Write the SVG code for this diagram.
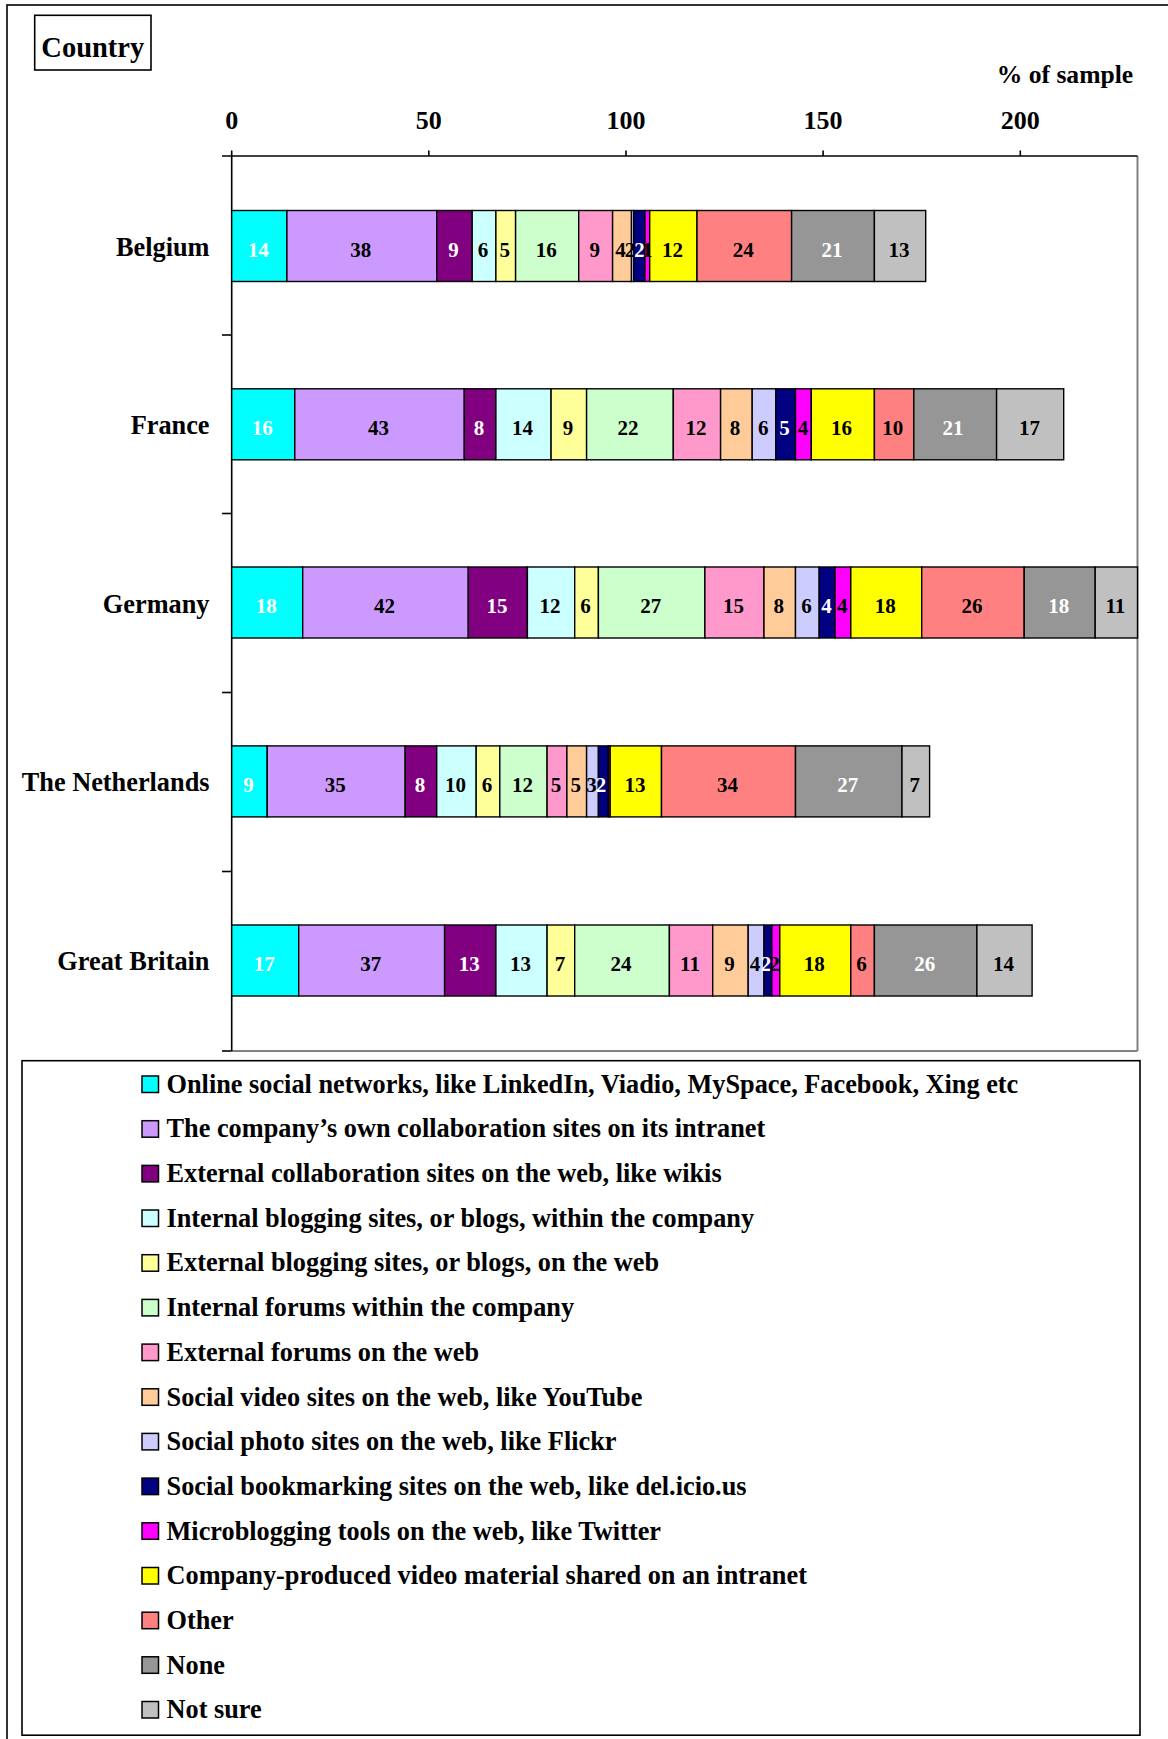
<svg xmlns="http://www.w3.org/2000/svg" width="1168" height="1739" viewBox="0 0 1168 1739">
<style>
text{font-family:"Liberation Serif","Times New Roman",serif;font-weight:bold;fill:#000}
.bl{font-size:21px;text-anchor:middle}
.w{fill:#fff}
.cty{font-size:26.3px;text-anchor:end}
.tick{font-size:26px;text-anchor:middle}
.leg{font-size:26.3px}
.seg{stroke:#000;stroke-width:1.4}
.sw{stroke:#000;stroke-width:1.5}
.c1{fill:#00FFFF}.c2{fill:#CC99FF}.c3{fill:#800080}.c4{fill:#CCFFFF}.c5{fill:#FFFF99}
.c6{fill:#CCFFCC}.c7{fill:#FF99CC}.c8{fill:#FFCC99}.c9{fill:#CCCCFF}.c10{fill:#000080}
.c11{fill:#FF00FF}.c12{fill:#FFFF00}.c13{fill:#FF8080}.c14{fill:#969696}.c15{fill:#C0C0C0}
</style>
<rect x="0" y="0" width="1168" height="1739" fill="#fff"/>
<rect x="7" y="5" width="1180" height="1760" fill="none" stroke="#000" stroke-width="1.6"/>

<g id="title">
<rect x="34.7" y="15.3" width="116.3" height="54.7" fill="#fff" stroke="#000" stroke-width="1.6"/>
<text x="92.8" y="56.7" font-size="28.5" text-anchor="middle">Country</text>
<text x="996.7" y="83" font-size="25.6">% of sample</text>
</g>

<g id="axes">
<line x1="231.7" y1="1051" x2="1137.5" y2="1051" stroke="#808080" stroke-width="2"/>
<line x1="1137.5" y1="156" x2="1137.5" y2="1051" stroke="#808080" stroke-width="2"/>
<line x1="222" y1="156" x2="1137.5" y2="156" stroke="#000" stroke-width="1.6"/>
<line x1="231.7" y1="150.5" x2="231.7" y2="1051" stroke="#000" stroke-width="1.6"/>
<g stroke="#000" stroke-width="1.6">
<line x1="428.8" y1="150.5" x2="428.8" y2="156"/>
<line x1="626" y1="150.5" x2="626" y2="156"/>
<line x1="823.1" y1="150.5" x2="823.1" y2="156"/>
<line x1="1020.3" y1="150.5" x2="1020.3" y2="156"/>
<line x1="222" y1="335" x2="231.7" y2="335"/>
<line x1="222" y1="513.5" x2="231.7" y2="513.5"/>
<line x1="222" y1="692.5" x2="231.7" y2="692.5"/>
<line x1="222" y1="871.5" x2="231.7" y2="871.5"/>
<line x1="222" y1="1051" x2="231.7" y2="1051"/>
</g>
<text class="tick" x="231.7" y="129.3">0</text>
<text class="tick" x="428.8" y="129.3">50</text>
<text class="tick" x="626" y="129.3">100</text>
<text class="tick" x="823.1" y="129.3">150</text>
<text class="tick" x="1020.3" y="129.3">200</text>
<text class="cty" x="209.5" y="255.5">Belgium</text>
<text class="cty" x="209.5" y="434">France</text>
<text class="cty" x="209.5" y="612.5">Germany</text>
<text class="cty" x="209.5" y="791">The Netherlands</text>
<text class="cty" x="209.5" y="970">Great Britain</text>
</g>

<g id="row-belgium">
<rect class="seg c1" x="231.7" y="210.5" width="55.2" height="71"/>
<rect class="seg c2" x="286.9" y="210.5" width="149.8" height="71"/>
<rect class="seg c3" x="436.7" y="210.5" width="35.5" height="71"/>
<rect class="seg c4" x="472.2" y="210.5" width="23.7" height="71"/>
<rect class="seg c5" x="495.9" y="210.5" width="19.7" height="71"/>
<rect class="seg c6" x="515.6" y="210.5" width="63.1" height="71"/>
<rect class="seg c7" x="578.7" y="210.5" width="33.9" height="71"/>
<rect class="seg c8" x="612.6" y="210.5" width="18.9" height="71"/>
<rect class="seg c9" x="631.5" y="210.5" width="2.4" height="71"/>
<rect class="seg c10" x="633.9" y="210.5" width="11" height="71"/>
<rect class="seg c11" x="644.9" y="210.5" width="4.8" height="71"/>
<rect class="seg c12" x="649.7" y="210.5" width="47.3" height="71"/>
<rect class="seg c13" x="697" y="210.5" width="94.6" height="71"/>
<rect class="seg c14" x="791.6" y="210.5" width="82.8" height="71"/>
<rect class="seg c15" x="874.4" y="210.5" width="51.3" height="71"/>
<text class="bl w" x="258.3" y="256.7">14</text>
<text class="bl" x="360.8" y="256.7">38</text>
<text class="bl w" x="453.5" y="256.7">9</text>
<text class="bl" x="483" y="256.7">6</text>
<text class="bl" x="504.8" y="256.7">5</text>
<text class="bl" x="546.2" y="256.7">16</text>
<text class="bl" x="594.7" y="256.7">9</text>
<text class="bl" x="620.5" y="256.7">4</text>
<text class="bl" x="630" y="256.7">2</text>
<text class="bl w" x="639.4" y="256.7">2</text>
<text class="bl" x="647.3" y="256.7">1</text>
<text class="bl" x="672.4" y="256.7">12</text>
<text class="bl" x="743.3" y="256.7">24</text>
<text class="bl w" x="832" y="256.7">21</text>
<text class="bl" x="899" y="256.7">13</text>
</g>

<g id="row-france">
<rect class="seg c1" x="231.7" y="388.8" width="63.1" height="71"/>
<rect class="seg c2" x="294.8" y="388.8" width="169.5" height="71"/>
<rect class="seg c3" x="464.3" y="388.8" width="31.6" height="71"/>
<rect class="seg c4" x="495.9" y="388.8" width="55.2" height="71"/>
<rect class="seg c5" x="551.1" y="388.8" width="35.5" height="71"/>
<rect class="seg c6" x="586.6" y="388.8" width="86.7" height="71"/>
<rect class="seg c7" x="673.3" y="388.8" width="47.3" height="71"/>
<rect class="seg c8" x="720.6" y="388.8" width="31.6" height="71"/>
<rect class="seg c9" x="752.2" y="388.8" width="23.6" height="71"/>
<rect class="seg c10" x="775.8" y="388.8" width="19.7" height="71"/>
<rect class="seg c11" x="795.5" y="388.8" width="15.8" height="71"/>
<rect class="seg c12" x="811.3" y="388.8" width="63.1" height="71"/>
<rect class="seg c13" x="874.4" y="388.8" width="39.4" height="71"/>
<rect class="seg c14" x="913.8" y="388.8" width="82.8" height="71"/>
<rect class="seg c15" x="996.6" y="388.8" width="67.1" height="71"/>
<text class="bl w" x="262.3" y="435">16</text>
<text class="bl" x="378.5" y="435">43</text>
<text class="bl w" x="479.1" y="435">8</text>
<text class="bl" x="522.5" y="435">14</text>
<text class="bl" x="567.9" y="435">9</text>
<text class="bl" x="628" y="435">22</text>
<text class="bl" x="696" y="435">12</text>
<text class="bl" x="735" y="435">8</text>
<text class="bl" x="763.3" y="435">6</text>
<text class="bl w" x="784.5" y="435">5</text>
<text class="bl" x="803" y="435">4</text>
<text class="bl" x="841.5" y="435">16</text>
<text class="bl" x="892.8" y="435">10</text>
<text class="bl w" x="953" y="435">21</text>
<text class="bl" x="1029.5" y="435">17</text>
</g>

<g id="row-germany">
<rect class="seg c1" x="231.7" y="567" width="71" height="71"/>
<rect class="seg c2" x="302.7" y="567" width="165.6" height="71"/>
<rect class="seg c3" x="468.3" y="567" width="59.1" height="71"/>
<rect class="seg c4" x="527.4" y="567" width="47.3" height="71"/>
<rect class="seg c5" x="574.7" y="567" width="23.7" height="71"/>
<rect class="seg c6" x="598.4" y="567" width="106.5" height="71"/>
<rect class="seg c7" x="704.9" y="567" width="59.1" height="71"/>
<rect class="seg c8" x="764" y="567" width="31.5" height="71"/>
<rect class="seg c9" x="795.5" y="567" width="23.7" height="71"/>
<rect class="seg c10" x="819.2" y="567" width="15.8" height="71"/>
<rect class="seg c11" x="835" y="567" width="15.8" height="71"/>
<rect class="seg c12" x="850.8" y="567" width="70.9" height="71"/>
<rect class="seg c13" x="921.7" y="567" width="102.5" height="71"/>
<rect class="seg c14" x="1024.2" y="567" width="71" height="71"/>
<rect class="seg c15" x="1095.2" y="567" width="42.3" height="71"/>
<text class="bl w" x="266.2" y="613.2">18</text>
<text class="bl" x="384.5" y="613.2">42</text>
<text class="bl w" x="496.9" y="613.2">15</text>
<text class="bl" x="550" y="613.2">12</text>
<text class="bl" x="585.6" y="613.2">6</text>
<text class="bl" x="650.7" y="613.2">27</text>
<text class="bl" x="733.5" y="613.2">15</text>
<text class="bl" x="778.8" y="613.2">8</text>
<text class="bl" x="806.4" y="613.2">6</text>
<text class="bl w" x="826.4" y="613.2">4</text>
<text class="bl" x="842.2" y="613.2">4</text>
<text class="bl" x="885.3" y="613.2">18</text>
<text class="bl" x="972" y="613.2">26</text>
<text class="bl w" x="1058.7" y="613.2">18</text>
<text class="bl" x="1115.4" y="613.2">11</text>
</g>

<g id="row-netherlands">
<rect class="seg c1" x="231.7" y="745.9" width="35.5" height="71"/>
<rect class="seg c2" x="267.2" y="745.9" width="138" height="71"/>
<rect class="seg c3" x="405.2" y="745.9" width="31.5" height="71"/>
<rect class="seg c4" x="436.7" y="745.9" width="39.5" height="71"/>
<rect class="seg c5" x="476.2" y="745.9" width="23.6" height="71"/>
<rect class="seg c6" x="499.8" y="745.9" width="47.3" height="71"/>
<rect class="seg c7" x="547.1" y="745.9" width="19.8" height="71"/>
<rect class="seg c8" x="566.9" y="745.9" width="19.7" height="71"/>
<rect class="seg c9" x="586.6" y="745.9" width="11.8" height="71"/>
<rect class="seg c10" x="598.4" y="745.9" width="9.9" height="71"/>
<rect class="seg c11" x="608.3" y="745.9" width="1.9" height="71"/>
<rect class="seg c12" x="610.2" y="745.9" width="51.3" height="71"/>
<rect class="seg c13" x="661.5" y="745.9" width="134" height="71"/>
<rect class="seg c14" x="795.5" y="745.9" width="106.5" height="71"/>
<rect class="seg c15" x="902" y="745.9" width="27.6" height="71"/>
<text class="bl w" x="248.5" y="792.1">9</text>
<text class="bl" x="335.2" y="792.1">35</text>
<text class="bl w" x="420" y="792.1">8</text>
<text class="bl" x="455.5" y="792.1">10</text>
<text class="bl" x="487" y="792.1">6</text>
<text class="bl" x="522.5" y="792.1">12</text>
<text class="bl" x="556" y="792.1">5</text>
<text class="bl" x="575.8" y="792.1">5</text>
<text class="bl" x="591.5" y="792.1">3</text>
<text class="bl w" x="601" y="792.1">2</text>
<text class="bl" x="634.9" y="792.1">13</text>
<text class="bl" x="727.5" y="792.1">34</text>
<text class="bl w" x="847.8" y="792.1">27</text>
<text class="bl" x="914.8" y="792.1">7</text>
</g>

<g id="row-great-britain">
<rect class="seg c1" x="231.7" y="925" width="67" height="71"/>
<rect class="seg c2" x="298.7" y="925" width="145.9" height="71"/>
<rect class="seg c3" x="444.6" y="925" width="51.3" height="71"/>
<rect class="seg c4" x="495.9" y="925" width="51.2" height="71"/>
<rect class="seg c5" x="547.1" y="925" width="27.6" height="71"/>
<rect class="seg c6" x="574.7" y="925" width="94.7" height="71"/>
<rect class="seg c7" x="669.4" y="925" width="43.3" height="71"/>
<rect class="seg c8" x="712.7" y="925" width="35.5" height="71"/>
<rect class="seg c9" x="748.2" y="925" width="15.8" height="71"/>
<rect class="seg c10" x="764" y="925" width="7.9" height="71"/>
<rect class="seg c11" x="771.9" y="925" width="7.9" height="71"/>
<rect class="seg c12" x="779.8" y="925" width="71" height="71"/>
<rect class="seg c13" x="850.8" y="925" width="23.6" height="71"/>
<rect class="seg c14" x="874.4" y="925" width="102.5" height="71"/>
<rect class="seg c15" x="976.9" y="925" width="55.2" height="71"/>
<text class="bl w" x="264.2" y="971.2">17</text>
<text class="bl" x="370.7" y="971.2">37</text>
<text class="bl w" x="469.3" y="971.2">13</text>
<text class="bl" x="520.5" y="971.2">13</text>
<text class="bl" x="559.9" y="971.2">7</text>
<text class="bl" x="621" y="971.2">24</text>
<text class="bl" x="690" y="971.2">11</text>
<text class="bl" x="729.5" y="971.2">9</text>
<text class="bl" x="755" y="971.2">4</text>
<text class="bl w" x="766" y="971.2">2</text>
<text class="bl" x="774.5" y="971.2">2</text>
<text class="bl" x="814.3" y="971.2">18</text>
<text class="bl" x="861.6" y="971.2">6</text>
<text class="bl w" x="924.7" y="971.2">26</text>
<text class="bl" x="1003.5" y="971.2">14</text>
</g>

<g id="legend">
<rect x="22" y="1060.7" width="1118" height="674.5" fill="#fff" stroke="#000" stroke-width="1.6"/>
<rect class="sw c1" x="142" y="1076" width="16.5" height="16.5"/>
<rect class="sw c2" x="142" y="1120.7" width="16.5" height="16.5"/>
<rect class="sw c3" x="142" y="1165.4" width="16.5" height="16.5"/>
<rect class="sw c4" x="142" y="1210" width="16.5" height="16.5"/>
<rect class="sw c5" x="142" y="1254.7" width="16.5" height="16.5"/>
<rect class="sw c6" x="142" y="1299.4" width="16.5" height="16.5"/>
<rect class="sw c7" x="142" y="1344.1" width="16.5" height="16.5"/>
<rect class="sw c8" x="142" y="1388.8" width="16.5" height="16.5"/>
<rect class="sw c9" x="142" y="1433.4" width="16.5" height="16.5"/>
<rect class="sw c10" x="142" y="1478.1" width="16.5" height="16.5"/>
<rect class="sw c11" x="142" y="1522.8" width="16.5" height="16.5"/>
<rect class="sw c12" x="142" y="1567.5" width="16.5" height="16.5"/>
<rect class="sw c13" x="142" y="1612.2" width="16.5" height="16.5"/>
<rect class="sw c14" x="142" y="1656.8" width="16.5" height="16.5"/>
<rect class="sw c15" x="142" y="1701.5" width="16.5" height="16.5"/>
<text class="leg" x="166.5" y="1092.7">Online social networks, like LinkedIn, Viadio, MySpace, Facebook, Xing etc</text>
<text class="leg" x="166.5" y="1137.4">The company’s own collaboration sites on its intranet</text>
<text class="leg" x="166.5" y="1182.1">External collaboration sites on the web, like wikis</text>
<text class="leg" x="166.5" y="1226.7">Internal blogging sites, or blogs, within the company</text>
<text class="leg" x="166.5" y="1271.4">External blogging sites, or blogs, on the web</text>
<text class="leg" x="166.5" y="1316.1">Internal forums within the company</text>
<text class="leg" x="166.5" y="1360.8">External forums on the web</text>
<text class="leg" x="166.5" y="1405.5">Social video sites on the web, like YouTube</text>
<text class="leg" x="166.5" y="1450.1">Social photo sites on the web, like Flickr</text>
<text class="leg" x="166.5" y="1494.8">Social bookmarking sites on the web, like del.icio.us</text>
<text class="leg" x="166.5" y="1539.5">Microblogging tools on the web, like Twitter</text>
<text class="leg" x="166.5" y="1584.2">Company-produced video material shared on an intranet</text>
<text class="leg" x="166.5" y="1628.9">Other</text>
<text class="leg" x="166.5" y="1673.5">None</text>
<text class="leg" x="166.5" y="1718.2">Not sure</text>
</g>
</svg>
